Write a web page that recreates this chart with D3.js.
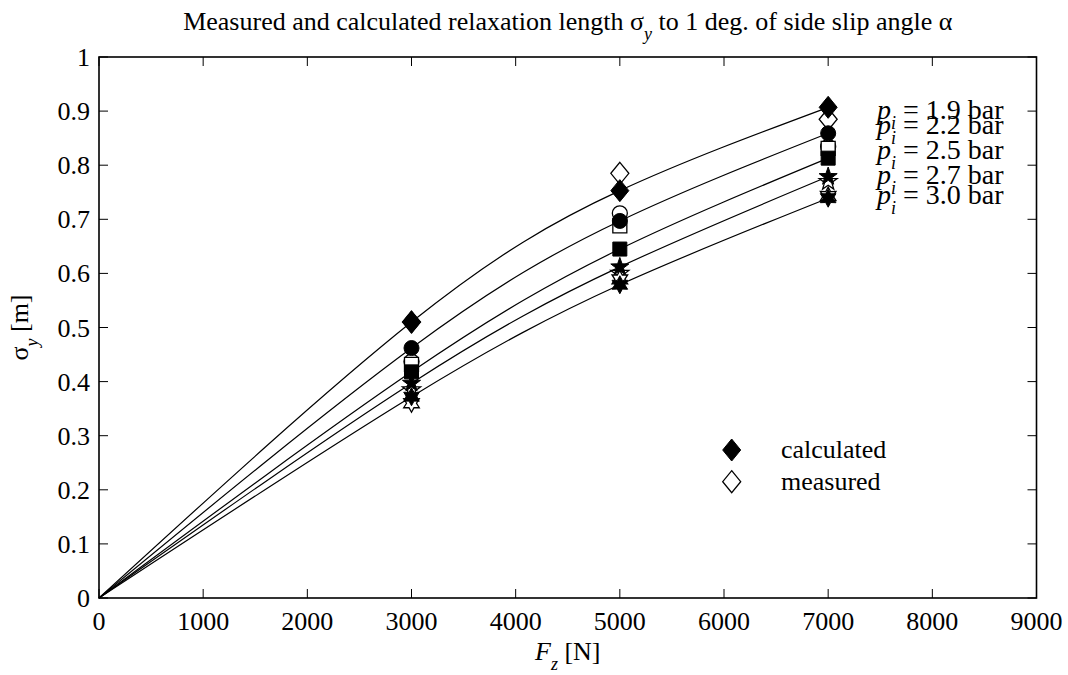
<!DOCTYPE html>
<html><head><meta charset="utf-8">
<script src="https://cdn.jsdelivr.net/npm/d3@7"></script>
<style>
body{margin:0;background:#fff;}
text{font-family:"Liberation Serif","Times New Roman",serif;fill:#000;}
</style></head>
<body><svg id="c" width="1068" height="675"></svg>
<script>
const loads = [3000, 5000, 7000];
const pressures = ["1.9", "2.2", "2.5", "2.7", "3.0"];
const shapes = ["diamond", "circle", "square", "pentagram", "hexagram"];
const calc19 = [0.510, 0.753, 0.907];
const calc22 = [0.462, 0.697, 0.859];
const calc25 = [0.418, 0.645, 0.813];
const calc27 = [0.397, 0.612, 0.779];
const calc30 = [0.372, 0.579, 0.739];
const meas19 = [0.510, 0.785, 0.885];
const meas22 = [0.437, 0.711, 0.834];
const meas25 = [0.432, 0.688, 0.831];
const meas27 = [0.385, 0.600, 0.770];
const meas30 = [0.360, 0.589, 0.743];
const labelY = [0.902, 0.874, 0.828, 0.782, 0.745];
const xTicks = [0,1000,2000,3000,4000,5000,6000,7000,8000,9000];
const yTicks = [0,0.1,0.2,0.3,0.4,0.5,0.6,0.7,0.8,0.9,1];

const calc = [calc19, calc22, calc25, calc27, calc30];
const meas = [meas19, meas22, meas25, meas27, meas30];

const svg = d3.select("#c");
const L = 99, R = 1036.5, T = 57, B = 598;
const x = d3.scaleLinear().domain([0, 9000]).range([L, R]);
const y = d3.scaleLinear().domain([0, 1]).range([B, T]);
const FS = 26, SUB = 18, PFS = 28;

// symbol types
const diamondT = {draw(c){ const w=9, h=11; c.moveTo(0,-h); c.lineTo(w,0); c.lineTo(0,h); c.lineTo(-w,0); c.closePath(); }};
const circleT = {draw(c){ c.moveTo(7.5,0); c.arc(0,0,7.5,0,2*Math.PI); }};
const squareT = {draw(c){ const a=7; c.moveTo(-a,-a); c.lineTo(a,-a); c.lineTo(a,a); c.lineTo(-a,a); c.closePath(); }};
function starT(n, ro, ri){ return {draw(c){ for(let k=0;k<2*n;k++){ const r = k%2? ri: ro; const ang = -Math.PI/2 + k*Math.PI/n; const px=r*Math.cos(ang), py=r*Math.sin(ang); if(k===0) c.moveTo(px,py); else c.lineTo(px,py);} c.closePath(); }}; }
const symTypes = {diamond: diamondT, circle: circleT, square: squareT, pentagram: starT(5, 9.5, 3.8), hexagram: starT(6, 9, 5)};

// frame and ticks
const g = svg.append("g");
const tl = 9;
xTicks.forEach(v => {
  g.append("line").attr("x1", x(v)).attr("x2", x(v)).attr("y1", B).attr("y2", B - tl).attr("stroke","#000").attr("stroke-width",1);
  g.append("line").attr("x1", x(v)).attr("x2", x(v)).attr("y1", T).attr("y2", T + tl).attr("stroke","#000").attr("stroke-width",1);
  g.append("text").attr("x", x(v)).attr("y", B + 32).attr("text-anchor","middle").attr("font-size",FS).text(v);
});
yTicks.forEach(v => {
  g.append("line").attr("x1", L).attr("x2", L + tl).attr("y1", y(v)).attr("y2", y(v)).attr("stroke","#000").attr("stroke-width",1);
  g.append("line").attr("x1", R).attr("x2", R - tl).attr("y1", y(v)).attr("y2", y(v)).attr("stroke","#000").attr("stroke-width",1);
  g.append("text").attr("x", L - 9).attr("y", y(v) + 9).attr("text-anchor","end").attr("font-size",FS).text(d3.format("")(v));
});
g.append("rect").attr("x", L).attr("y", T).attr("width", R - L).attr("height", B - T).attr("fill","none").attr("stroke","#000").attr("stroke-width",1.6);

// curves
const line = d3.line().x(d => x(d[0])).y(d => y(d[1])).curve(d3.curveNatural);
calc.forEach(arr => {
  const pts = [[0,0]].concat(loads.map((l,i) => [l, arr[i]]));
  svg.append("path").attr("d", line(pts)).attr("fill","none").attr("stroke","#000").attr("stroke-width",1.2);
});

// markers: measured (open) then calculated (filled)
const sym = t => d3.symbol().type(symTypes[t])();
meas.forEach((arr, k) => {
  loads.forEach((l, i) => {
    svg.append("path").attr("d", sym(shapes[k])).attr("transform",`translate(${x(l)},${y(arr[i])})`)
      .attr("fill","#fff").attr("stroke","#000").attr("stroke-width",1.3);
  });
});
calc.forEach((arr, k) => {
  loads.forEach((l, i) => {
    svg.append("path").attr("d", sym(shapes[k])).attr("transform",`translate(${x(l)},${y(arr[i])})`)
      .attr("fill","#000").attr("stroke","#000").attr("stroke-width",1);
  });
});

// pressure labels
pressures.forEach((p, k) => {
  const t = svg.append("text").attr("x", 877).attr("y", y(labelY[k]) + 9).attr("font-size",PFS);
  t.append("tspan").attr("font-style","italic").text("p");
  t.append("tspan").attr("font-size",SUB).attr("font-style","italic").attr("dy",10).text("i");
  t.append("tspan").attr("dy",-10).text(" = " + p + " bar");
});

// legend
svg.append("path").attr("d", sym("diamond")).attr("transform",`translate(731.7,450)`).attr("fill","#000").attr("stroke","#000");
svg.append("path").attr("d", sym("diamond")).attr("transform",`translate(731.7,481.7)`).attr("fill","#fff").attr("stroke","#000").attr("stroke-width",1.3);
svg.append("text").attr("x", 781).attr("y", 458).attr("font-size",FS).text("calculated");
svg.append("text").attr("x", 781).attr("y", 490).attr("font-size",FS).text("measured");

// title
const tt = svg.append("text").attr("x", (L+R)/2).attr("y", 30).attr("text-anchor","middle").attr("font-size",FS);
tt.append("tspan").text("Measured and calculated relaxation length σ");
tt.append("tspan").attr("font-size",SUB).attr("font-style","italic").attr("dy",10).text("y");
tt.append("tspan").attr("dy",-10).text(" to 1 deg. of side slip angle α");

// x label
const xl = svg.append("text").attr("x", (L+R)/2).attr("y", 660).attr("text-anchor","middle").attr("font-size",FS);
xl.append("tspan").attr("font-style","italic").text("F");
xl.append("tspan").attr("font-size",SUB).attr("font-style","italic").attr("dy",10).text("z");
xl.append("tspan").attr("dy",-10).text(" [N]");

// y label
const yl = svg.append("text").attr("transform",`translate(28,${(T+B)/2}) rotate(-90)`).attr("text-anchor","middle").attr("font-size",FS);
yl.append("tspan").text("σ");
yl.append("tspan").attr("font-size",SUB).attr("font-style","italic").attr("dy",10).text("y");
yl.append("tspan").attr("dy",-10).text(" [m]");
</script></body></html>
